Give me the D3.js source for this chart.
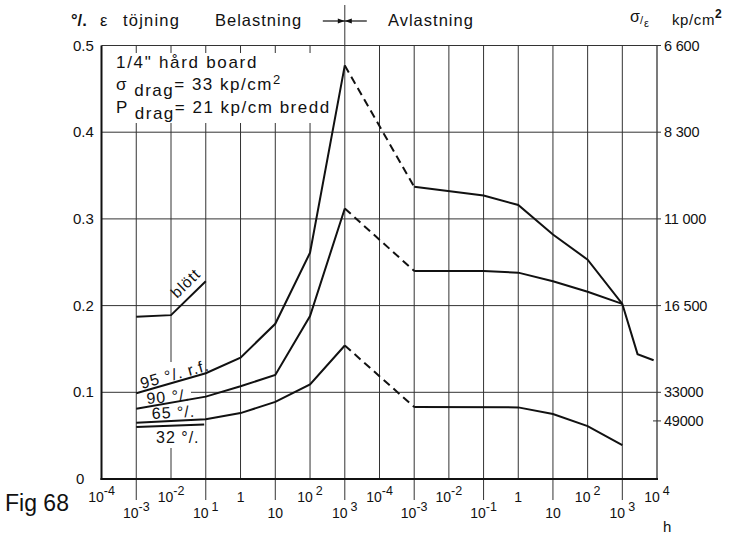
<!DOCTYPE html>
<html><head><meta charset="utf-8">
<script src="https://cdn.jsdelivr.net/npm/d3@7"></script>
<style>
body{margin:0;background:#fff;}
text{font-family:"Liberation Sans",Arial,sans-serif;fill:#111;}
</style></head>
<body><svg id="c" width="730" height="534"></svg>
<script>
// ---------- data ----------
const loadTimes = [1e-3, 1e-1, 1, 10, 100, 1000];
const rh95Load = [0.099, 0.122, 0.140, 0.179, 0.261, 0.477];
const rh90Load = [0.081, 0.095, 0.107, 0.120, 0.188, 0.312];
const rh65Load = [0.065, 0.069, 0.076, 0.089, 0.109, 0.154];
const rh32Times = [1e-3, 0.09];
const rh32Load = [0.060, 0.063];
const wetTimes = [1e-3, 1e-2, 1e-1];
const wetLoad = [0.187, 0.189, 0.228];

const unload95Times = [1e-3, 1e-1, 1, 10, 100, 1000, 2750, 8000];
const unload95 = [0.337, 0.327, 0.316, 0.282, 0.253, 0.202, 0.144, 0.137];
const unload90Times = [1e-3, 1e-1, 1, 10, 100, 1000];
const unload90 = [0.240, 0.240, 0.238, 0.228, 0.216, 0.202];
const unload65Times = [1e-3, 1, 10, 100, 1000];
const unload65 = [0.083, 0.0826, 0.075, 0.061, 0.039];

const yTicks = [0, 0.1, 0.2, 0.3, 0.4, 0.5];
const yTickLabels = ["0", "0.1", "0.2", "0.3", "0.4", "0.5"];
const rightTickEps = [0.5, 0.4, 0.3, 0.2, 0.1, 0.067];
const rightTickLabels = ["6 600", "8 300", "11 000", "16 500", "33000", "49000"];
const loadDecades = [1e-4, 1e-3, 1e-2, 1e-1, 1, 10, 100, 1000];
const loadDecadeLabels = [["10","-4"],["10","-3"],["10","-2"],["10","1"],["1",""],["10",""],["10","2"],["10","3"]];
const unloadDecades = [1e-4, 1e-3, 1e-2, 1e-1, 1, 10, 100, 1000, 1e4];
const unloadDecadeLabels = [["10","-4"],["10","-3"],["10","-2"],["10","-1"],["1",""],["10",""],["10","2"],["10","3"],["10","4"]];

// ---------- scales ----------
const svg = d3.select("#c");
const pLeft = 101.5, pMid = 344.8, pMidU = 379.5, pRight = 657;
const pTop = 45.5, pBottom = 479;
const xL = d3.scaleLog().domain([1e-4, 1e3]).range([pLeft, pMid]);
const xU = d3.scaleLog().domain([1e-4, 1e4]).range([pMidU, pRight]);
const y = d3.scaleLinear().domain([0, 0.5]).range([pBottom, pTop]);

const gridCol = "#333";
// ---------- grid ----------
const g = svg.append("g");
yTicks.filter(v => v > 0).forEach(v => {
  g.append("line").attr("x1", pLeft).attr("x2", pRight).attr("y1", y(v)).attr("y2", y(v))
    .attr("stroke", gridCol).attr("stroke-width", 1);
});
loadDecades.slice(1).forEach(t => {
  g.append("line").attr("x1", xL(t)).attr("x2", xL(t)).attr("y1", t === 1000 ? 5 : pTop).attr("y2", pBottom)
    .attr("stroke", gridCol).attr("stroke-width", 1);
});
unloadDecades.forEach(t => {
  g.append("line").attr("x1", xU(t)).attr("x2", xU(t)).attr("y1", pTop).attr("y2", pBottom)
    .attr("stroke", gridCol).attr("stroke-width", t === 1e4 ? 1.3 : 1);
});
// right axis ticks
rightTickEps.forEach((v, i) => {
  g.append("line").attr("x1", pRight - (i === 5 ? 4 : 0)).attr("x2", pRight + 4).attr("y1", y(v)).attr("y2", y(v))
    .attr("stroke", gridCol).attr("stroke-width", 1);
  svg.append("text").attr("x", 664).attr("y", y(v) + 5).attr("font-size", 14.5)
    .attr("letter-spacing", -0.2).text(rightTickLabels[i]);
});
// bottom long ticks (lower label row)
[[xL,1e-3],[xL,1e-1],[xL,10],[xL,1000],[xU,1e-3],[xU,1e-1],[xU,10],[xU,1000]].forEach(([s,t]) => {
  g.append("line").attr("x1", s(t)).attr("x2", s(t)).attr("y1", pBottom).attr("y2", 500)
    .attr("stroke", gridCol).attr("stroke-width", 1);
});
// frame
svg.append("line").attr("x1", pLeft).attr("x2", pLeft).attr("y1", pTop).attr("y2", pBottom + 1)
  .attr("stroke", "#111").attr("stroke-width", 2);
svg.append("line").attr("x1", pLeft - 1).attr("x2", pRight + 1).attr("y1", pBottom).attr("y2", pBottom)
  .attr("stroke", "#111").attr("stroke-width", 2);

// ---------- masks (white behind annotations) ----------
svg.append("rect").attr("x", 108).attr("y", 53).attr("width", 218).attr("height", 70).attr("fill", "#fff");
svg.append("rect").attr("x", 137).attr("y", 362).attr("width", 54).attr("height", 86).attr("fill", "#fff");

// ---------- curves ----------
const line = d3.line().x(d => d[0]).y(d => y(d[1]));
function drawSeries(pts, dashed) {
  svg.append("path").attr("d", line(pts)).attr("fill", "none").attr("stroke", "#111")
    .attr("stroke-width", 2).attr("stroke-linejoin", "miter")
    .attr("stroke-dasharray", dashed ? "8,5" : null);
}
const zipL = (ts, vs) => ts.map((t, i) => [xL(t), vs[i]]);
const zipU = (ts, vs) => ts.map((t, i) => [xU(t), vs[i]]);
[[rh95Load, unload95Times, unload95], [rh90Load, unload90Times, unload90], [rh65Load, unload65Times, unload65]].forEach(([ld, ut, uv]) => {
  drawSeries(zipL(loadTimes, ld), false);
  drawSeries([[xL(loadTimes[loadTimes.length - 1]), ld[ld.length - 1]], [xU(ut[0]), uv[0]]], true);
  drawSeries(zipU(ut, uv), false);
});
drawSeries(zipL(rh32Times, rh32Load), false);
drawSeries(zipL(wetTimes, wetLoad), false);

// ---------- annotation labels ----------
function lab(x, yy, txt, rot, size) {
  svg.append("text").attr("transform", `translate(${x},${yy}) rotate(${rot || 0})`)
    .attr("font-size", size || 16).attr("letter-spacing", 1).text(txt);
}
lab(142, 389, "95 °/. r.f.", -15.5);
lab(147, 404, "90 °/.", -5);
lab(152, 419, "65 °/.", -3);
lab(156, 443, "32 °/.", 0);
lab(177, 299, "blött", -44, 15.5);

// text box
const tb = svg.append("g");
tb.append("text").attr("x", 116).attr("y", 68).attr("letter-spacing", 1.7).attr("font-size", 17).text("1/4\" hård board");
const t2 = tb.append("text").attr("x", 116).attr("y", 90).attr("font-size", 17).attr("letter-spacing", 1.5);
t2.append("tspan").text("σ");
t2.append("tspan").attr("dy", 6).text(" drag");
t2.append("tspan").attr("dy", -6).text("= 33 kp/cm");
t2.append("tspan").attr("dy", -6).attr("font-size", 13).text("2");
const t3 = tb.append("text").attr("x", 116).attr("y", 113).attr("font-size", 17).attr("letter-spacing", 1.5);
t3.append("tspan").text("P");
t3.append("tspan").attr("dy", 6).text(" drag");
t3.append("tspan").attr("dy", -6).text("= 21 kp/cm  bredd");

// ---------- left axis labels ----------
yTicks.forEach((v, i) => {
  svg.append("text").attr("x", i === 0 ? 76 : 73).attr("y", y(v) + 5)
    .attr("font-size", 15).text(yTickLabels[i]);
});

// ---------- bottom labels ----------
function decLabel(x, yy, parts) {
  const t = svg.append("text").attr("x", x).attr("y", yy).attr("font-size", 14).attr("text-anchor", "middle");
  t.append("tspan").text(parts[0]);
  if (parts[1]) t.append("tspan").attr("dy", -7).attr("font-size", 12.5).attr("dx", parts[1].length > 1 ? 0 : 3).text(parts[1]);
}
loadDecades.forEach((t, i) => decLabel(xL(t), i % 2 === 0 ? 502 : 518, loadDecadeLabels[i]));
unloadDecades.forEach((t, i) => decLabel(xU(t), i % 2 === 0 ? 502 : 518, unloadDecadeLabels[i]));

// ---------- headings ----------
svg.append("text").attr("x", 71).attr("y", 26).attr("font-size", 16.5).attr("font-weight", "bold").text("°/.");
svg.append("text").attr("x", 100).attr("y", 26).attr("font-size", 16.5).text("ε");
svg.append("text").attr("x", 123).attr("y", 26).attr("font-size", 16.5).attr("letter-spacing", 1.2).text("töjning");
svg.append("text").attr("x", 215).attr("y", 26).attr("font-size", 16.5).attr("letter-spacing", 1).text("Belastning");
svg.append("text").attr("x", 388).attr("y", 26).attr("font-size", 16.5).attr("letter-spacing", 1).text("Avlastning");
svg.append("text").attr("x", 630).attr("y", 22).attr("font-size", 16).text("σ");
svg.append("text").attr("x", 640).attr("y", 24).attr("font-size", 11).text("/");
svg.append("text").attr("x", 644).attr("y", 27).attr("font-size", 11).text("ε");
const kp = svg.append("text").attr("x", 672).attr("y", 25).attr("font-size", 15).attr("letter-spacing", 0.6);
kp.append("tspan").text("kp/cm");
kp.append("tspan").attr("dy", -7).attr("font-size", 12).attr("font-weight", "bold").text("2");

// arrows at the load/unload boundary
const ax = xL(1000);
svg.append("line").attr("x1", ax - 22).attr("x2", ax).attr("y1", 21).attr("y2", 21).attr("stroke", "#111").attr("stroke-width", 1.2);
svg.append("line").attr("x1", ax).attr("x2", ax + 22).attr("y1", 21).attr("y2", 21).attr("stroke", "#111").attr("stroke-width", 1.2);
svg.append("path").attr("d", `M${ax},21 L${ax - 7},18.5 L${ax - 7},23.5 Z`).attr("fill", "#111");
svg.append("path").attr("d", `M${ax},21 L${ax + 7},18.5 L${ax + 7},23.5 Z`).attr("fill", "#111");

svg.append("text").attr("x", 5).attr("y", 511).attr("font-size", 23).text("Fig 68");
svg.append("text").attr("x", 663).attr("y", 532).attr("font-size", 15).text("h");
</script></body></html>
